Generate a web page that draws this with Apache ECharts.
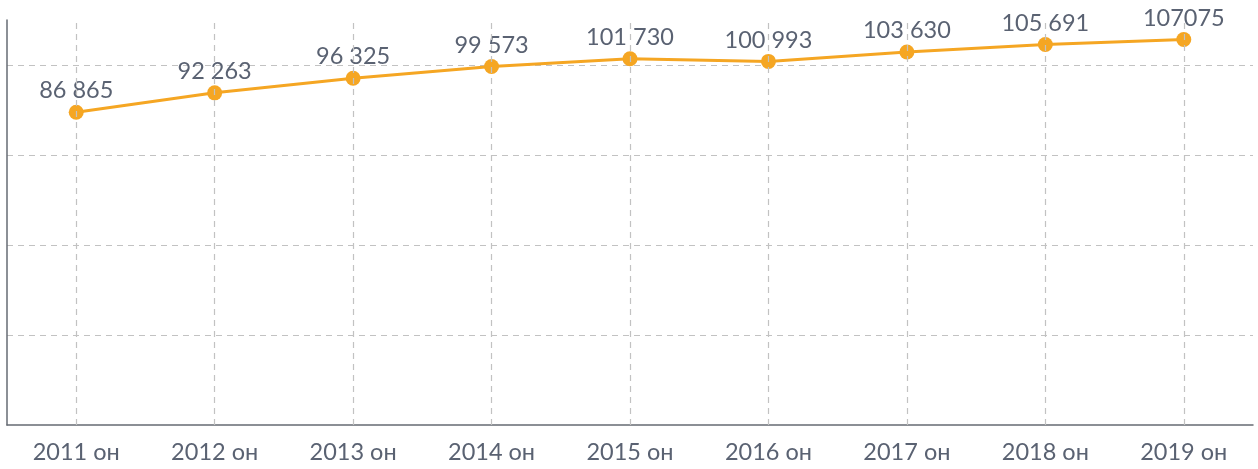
<!DOCTYPE html>
<html>
<head>
<meta charset="utf-8">
<script src="https://cdn.jsdelivr.net/npm/echarts@6/dist/echarts.min.js"></script>
<style>
  html, body { margin: 0; padding: 0; background: #fff; }
  #chart { width: 1258px; height: 469px; }
</style>
</head>
<body>
<div id="chart"></div>
<script>
// categories and values
const years = ['2011 он', '2012 он', '2013 он', '2014 он', '2015 он', '2016 он', '2017 он', '2018 он', '2019 он']
const values = [86865, 92263, 96325, 99573, 101730, 100993, 103630, 105691, 107075]
const valueLabels = ['86 865', '92 263', '96 325', '99 573', '101 730', '100 993', '103 630', '105 691', '107075']

const gridColor = '#c2c2c2'

const chart = echarts.init(document.getElementById('chart'))
chart.setOption({
  animation: false,
  textStyle: { fontFamily: 'Lato' },
  grid: { left: 7, right: 5, top: 20, bottom: 44 },
  xAxis: {
    type: 'category',
    data: years,
    axisLine: { lineStyle: { color: '#666b73', width: 1.5 } },
    axisTick: { show: false },
    axisLabel: { color: '#5a6272', fontSize: 23.5, margin: 15, fontFamily: 'Lato' },
    splitLine: { show: false }
  },
  yAxis: {
    type: 'value',
    min: 0,
    max: 112500,
    interval: 25000,
    axisLine: { show: true, lineStyle: { color: '#666b73', width: 1.5 } },
    axisTick: { show: false },
    axisLabel: { show: false },
    splitLine: {
      show: true,
      showMinLine: false,
      showMaxLine: false,
      lineStyle: { color: gridColor, type: [6, 5], width: 1.2 }
    }
  },
  series: [
    {
      type: 'line',
      data: values,
      color: '#f5a623',
      symbol: 'circle',
      symbolSize: 15,
      lineStyle: { width: 3 },
      label: {
        show: true,
        position: 'top',
        distance: 2,
        color: '#5a6272',
        fontSize: 23.5,
        fontFamily: 'Lato',
        formatter: p => valueLabels[p.dataIndex]
      },
      markLine: {
        silent: true,
        symbol: 'none',
        label: { show: false },
        lineStyle: { color: gridColor, type: [6, 5], width: 1.2 },
        data: years.map(y => ({ xAxis: y }))
      },
      z: 3
    }
  ]
})
</script>
</body>
</html>
